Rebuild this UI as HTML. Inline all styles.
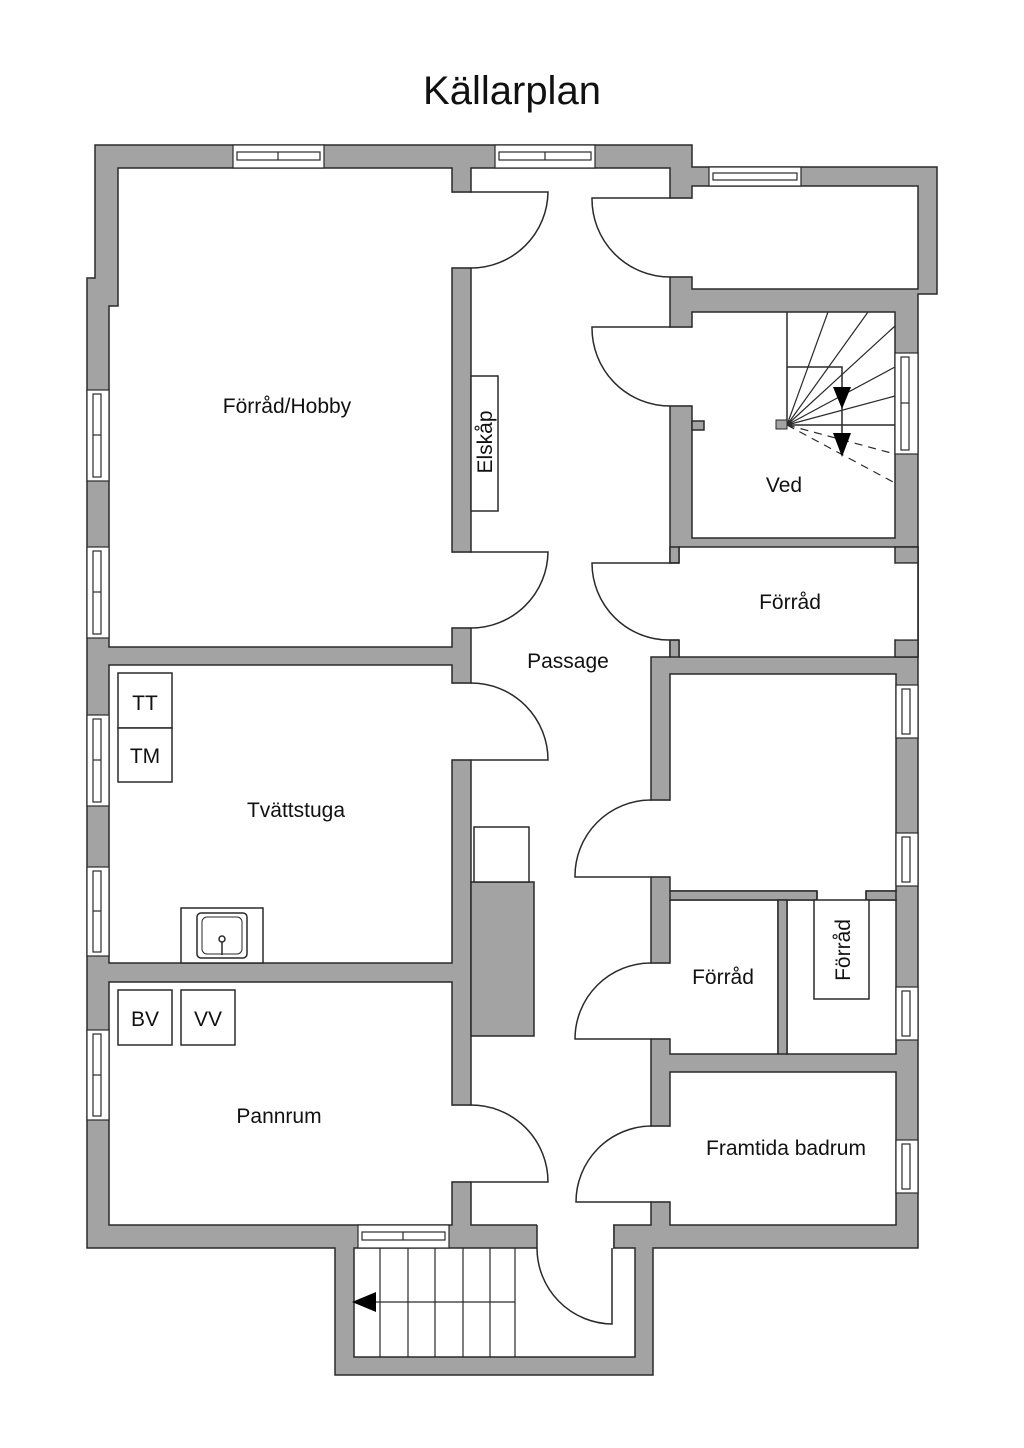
<!DOCTYPE html>
<html><head><meta charset="utf-8"><style>
html,body{margin:0;padding:0;background:#fff;}
svg{display:block;}
text{font-family:"Liberation Sans",sans-serif;fill:#111;}
</style></head><body>
<svg width="1024" height="1448" viewBox="0 0 1024 1448" xmlns="http://www.w3.org/2000/svg">
<rect width="1024" height="1448" fill="#fff"/>
<text x="512" y="104" font-size="40" text-anchor="middle">Källarplan</text>

<g stroke="#2a2a2a" stroke-width="1.5">
<!-- outer walls -->
<path d="M95,145 H692 V167 H937 V294 H918 V1248 H653 V1375 H335 V1248 H87 V278 H95 Z" fill="#a3a3a3"/>

<!-- rooms -->
<g fill="#fff">
<path d="M118,168 H452 V647 H109 V306 H118 Z"/>
<rect x="109" y="665" width="343" height="298"/>
<rect x="109" y="982" width="343" height="243"/>
<path d="M471,168 H670 V657 H651 V1225 H471 Z"/>
<rect x="692" y="186" width="226" height="103"/>
<rect x="692" y="312" width="203" height="226"/>
<rect x="679" y="547" width="239" height="110"/>
<rect x="670" y="674" width="226" height="217"/>
<rect x="670" y="900" width="108" height="154"/>
<rect x="787" y="900" width="109" height="154"/>
<rect x="670" y="1072" width="226" height="153"/>
<rect x="354" y="1248" width="281" height="109"/>
</g>
<!-- wall stubs -->
<g fill="#a3a3a3">
<rect x="895" y="547" width="23" height="16"/>
<rect x="895" y="640" width="23" height="17"/>
<rect x="670" y="547" width="9" height="16"/>
<rect x="670" y="640" width="9" height="17"/>
<rect x="670" y="891" width="147" height="9"/>
<rect x="866" y="891" width="30" height="9"/>
<rect x="778" y="900" width="9" height="154"/>
<rect x="692" y="421" width="12" height="9"/>
<rect x="471" y="882" width="63" height="154"/>
</g>
</g>

<!-- openings (white, no stroke) -->
<g fill="#fff" stroke="none">
<rect x="450" y="192.8" width="23" height="74.5"/>
<rect x="450" y="552.8" width="23" height="74.5"/>
<rect x="450" y="683.8" width="23" height="75.5"/>
<rect x="450" y="1105.8" width="23" height="75.5"/>
<rect x="668" y="198.8" width="26" height="77.5"/>
<rect x="668" y="327.8" width="26" height="77.5"/>
<rect x="668" y="563.8" width="13" height="75.5"/>
<rect x="649" y="800.8" width="23" height="75.5"/>
<rect x="649" y="963.8" width="23" height="74.5"/>
<rect x="649" y="1126.8" width="23" height="74.5"/>
<rect x="537" y="1223" width="76" height="27"/>
<rect x="817.8" y="889" width="47.5" height="13"/>
<rect x="896.5" y="563.8" width="20.7" height="75.5"/>
</g>
<g stroke="#2a2a2a" stroke-width="1.5" fill="none">
<!-- cap lines -->
<path d="M452,192 H471 M452,268 H471 M452,552 H471 M452,628 H471 M452,683 H471 M452,760 H471 M452,1105 H471 M452,1182 H471
M670,198 H692 M670,277 H692 M670,327 H692 M670,406 H692 M670,563 H679 M670,640 H679
M651,800 H670 M651,877 H670 M651,963 H670 M651,1039 H670 M651,1126 H670 M651,1202 H670
M537,1225 V1248 M614,1225 V1248 M817,891 V900 M866,891 V900 M918,563 V640"/>
<!-- doors -->
<path d="M471,192 H548 A77,77 0 0 1 471,268"/>
<path d="M471,552 H548 A77,77 0 0 1 471,628"/>
<path d="M471,760 H548 A77,77 0 0 0 471,683"/>
<path d="M471,1182 H548 A77,77 0 0 0 471,1105"/>
<path d="M670,198 H592 A78,78 0 0 0 670,277"/>
<path d="M670,327 H592 A78,78 0 0 0 670,406"/>
<path d="M670,563 H592 A77,77 0 0 0 670,640"/>
<path d="M651,877 H575 A76,76 0 0 1 651,800"/>
<path d="M651,1039 H575 A76,76 0 0 1 651,963"/>
<path d="M651,1202 H576 A76,76 0 0 1 651,1126"/>
<path d="M537,1248 A76,76 0 0 0 612,1324 V1248"/>
<!-- fixtures -->
<rect x="471" y="376" width="27" height="135" fill="#fff"/>
<rect x="474" y="827" width="55" height="55" fill="#fff"/>
<rect x="118" y="673" width="54" height="55" fill="#fff"/>
<rect x="118" y="728" width="54" height="54" fill="#fff"/>
<rect x="118" y="990" width="54" height="55" fill="#fff"/>
<rect x="181" y="990" width="54" height="55" fill="#fff"/>
<rect x="181" y="908" width="82" height="55" fill="#fff"/>
<rect x="197" y="913" width="50" height="45" rx="4"/>
<rect x="202" y="917" width="40" height="37" rx="5" stroke-width="1"/>
<circle cx="222" cy="939" r="3"/>
<path d="M222,942 V955"/>
<rect x="814" y="900" width="55" height="99" fill="#fff"/>
<!-- stairs in Ved -->
<path d="M787,312 V425 H895 M787,367 H842 V425 M842,425 V437"/>
<path d="M787,425 L828,312 M787,425 L868,312 M787,425 L895,326 M787,425 L895,367 M787,425 L895,396" stroke-width="1.2"/>
<path d="M787,425 L895,454 M787,425 L895,483" stroke-dasharray="8,6" stroke-width="1.2"/>
<!-- stairs bottom -->
<path d="M380,1248 V1357 M408,1248 V1357 M435,1248 V1357 M463,1248 V1357 M490,1248 V1357 M515,1248 V1357 M375,1302 H515" stroke-width="1.2"/>
</g>
<rect x="776" y="420" width="11" height="9" fill="#a3a3a3" stroke="#2a2a2a"/>
<path d="M833,387 L851,387 L842,409 Z M833,433 L851,433 L842,457 Z M352,1302 L376,1292 L376,1312 Z" fill="#000"/>

<!-- windows -->
<g fill="#fff" stroke="#2a2a2a" stroke-width="1.2">
<!-- horizontal -->
<rect x="233" y="145" width="91" height="23"/><rect x="237" y="152" width="83" height="8"/><path d="M278,152 V160"/>
<rect x="495" y="145" width="100" height="23"/><rect x="499" y="152" width="92" height="8"/><path d="M545,152 V160"/>
<rect x="709" y="167" width="92" height="19"/><rect x="713" y="173" width="84" height="7"/>
<rect x="358" y="1225" width="91" height="23"/><rect x="362" y="1232" width="83" height="8"/><path d="M403,1232 V1240"/>
<!-- left vertical -->
<rect x="87" y="390" width="22" height="91"/><rect x="93" y="394" width="8" height="83"/><path d="M93,435 H101"/>
<rect x="87" y="547" width="22" height="91"/><rect x="93" y="551" width="8" height="83"/><path d="M93,592 H101"/>
<rect x="87" y="715" width="22" height="91"/><rect x="93" y="719" width="8" height="83"/><path d="M93,760 H101"/>
<rect x="87" y="867" width="22" height="89"/><rect x="93" y="871" width="8" height="81"/><path d="M93,911 H101"/>
<rect x="87" y="1030" width="22" height="90"/><rect x="93" y="1034" width="8" height="82"/><path d="M93,1075 H101"/>
<!-- right vertical -->
<rect x="895" y="353" width="23" height="101"/><rect x="901" y="357" width="8" height="93"/><path d="M901,403 H909"/>
<rect x="896" y="685" width="22" height="53"/><rect x="902" y="689" width="8" height="45"/>
<rect x="896" y="833" width="22" height="53"/><rect x="902" y="837" width="8" height="45"/>
<rect x="896" y="987" width="22" height="53"/><rect x="902" y="991" width="8" height="45"/>
<rect x="896" y="1140" width="22" height="53"/><rect x="902" y="1144" width="8" height="45"/>
</g>

<!-- labels -->
<g font-size="21" text-anchor="middle">
<text x="287" y="413">Förråd/Hobby</text>
<text x="568" y="668">Passage</text>
<text x="784" y="492">Ved</text>
<text x="790" y="609">Förråd</text>
<text x="296" y="817">Tvättstuga</text>
<text x="723" y="984">Förråd</text>
<text x="279" y="1123">Pannrum</text>
<text x="786" y="1155">Framtida badrum</text>
<text x="145" y="710">TT</text>
<text x="145" y="763">TM</text>
<text x="145" y="1026">BV</text>
<text x="208" y="1026">VV</text>
<text transform="translate(492,442) rotate(-90)">Elskåp</text>
<text transform="translate(850,950) rotate(-90)">Förråd</text>
</g>
</svg>
</body></html>
